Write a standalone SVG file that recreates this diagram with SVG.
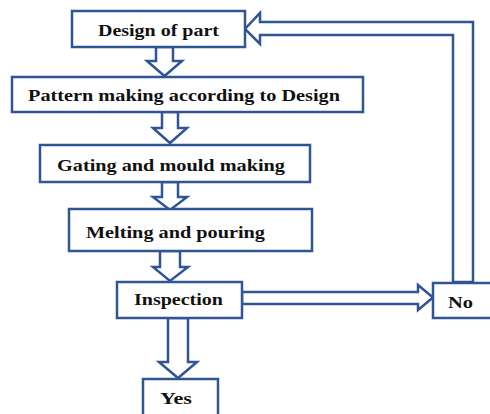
<svg xmlns="http://www.w3.org/2000/svg" width="490" height="414" viewBox="0 0 490 414">
<style>
.box{fill:#fff;stroke:#2f5597;stroke-width:2.5}
.arr{fill:#fff;stroke:#2f5597;stroke-width:2.5;stroke-linejoin:miter}
.t{font-family:"Liberation Serif",serif;font-weight:bold;font-size:17px;fill:#111}
</style>
<rect width="490" height="414" fill="#fff"/>
<g id="connectors">
<polygon class="arr" points="156,47 173,47 173,61 182,61 164.5,76 147,61 156,61"/>
<polygon class="arr" points="162,112 178,112 178,128 187,128 170,143 153,128 162,128"/>
<polygon class="arr" points="162,182 178,182 178,197 187,197 170,210 153,197 162,197"/>
<polygon class="arr" points="160,251 180,251 180,267 188,267 170,281 153,267 160,267"/>
<polygon class="arr" points="168,318 188,318 188,362 197,362 178,378 159,362 168,362"/>
<polygon class="arr" points="242,292 418,292 418,285 433,297.5 418,310 418,304 242,304"/>
<polygon class="arr" points="453,282 453,35 260,35 260,44 245,29 260,13 260,22 473,22 473,282"/>
</g>
<g id="n1"><rect class="box" x="72" y="11" width="173" height="36"/><text class="t" x="98" y="36" textLength="121" lengthAdjust="spacingAndGlyphs">Design of part</text></g>
<g id="n2"><rect class="box" x="12" y="77" width="351" height="35"/><text class="t" x="28" y="100.5" textLength="312" lengthAdjust="spacingAndGlyphs">Pattern making according to Design</text></g>
<g id="n3"><rect class="box" x="40" y="145" width="270" height="37"/><text class="t" x="57" y="171" textLength="228" lengthAdjust="spacingAndGlyphs">Gating and mould making</text></g>
<g id="n4"><rect class="box" x="69" y="209" width="243" height="42"/><text class="t" x="86" y="238" textLength="179" lengthAdjust="spacingAndGlyphs">Melting and pouring</text></g>
<g id="n5"><rect class="box" x="117" y="282" width="125" height="36"/><text class="t" x="134" y="305" textLength="89" lengthAdjust="spacingAndGlyphs">Inspection</text></g>
<g id="n6"><rect class="box" x="433" y="283" width="60" height="35"/><text class="t" x="448" y="308" textLength="25" lengthAdjust="spacingAndGlyphs">No</text></g>
<g id="n7"><rect class="box" x="143" y="379" width="75" height="40"/><text class="t" x="160" y="404" textLength="32" lengthAdjust="spacingAndGlyphs">Yes</text></g>
</svg>
